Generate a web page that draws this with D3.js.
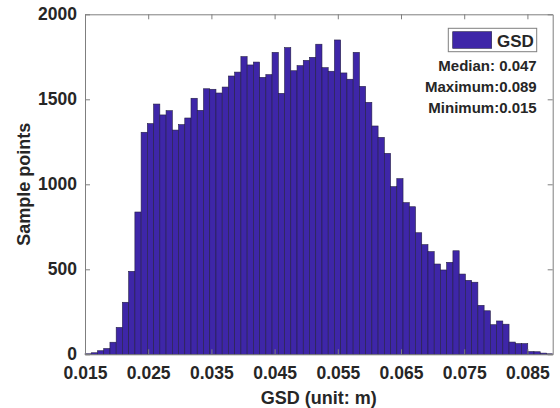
<!DOCTYPE html>
<html>
<head>
<meta charset="utf-8">
<script src="https://cdn.jsdelivr.net/npm/d3@7"></script>
<style>
  body { margin: 0; background: #fff; }
  svg text { font-family: "Liberation Sans", Arial, Helvetica, sans-serif; font-weight: bold; }
</style>
</head>
<body>
<svg id="svgContainer" width="560" height="408"></svg>
<script>
// histogram counts, 75 equal bins between the min and max GSD
var counts = [
  3, 9, 21, 34, 71, 158, 306, 488, 837, 1306,
  1357, 1472, 1408, 1433, 1319, 1351, 1390, 1506, 1435, 1562,
  1559, 1537, 1572, 1637, 1660, 1751, 1702, 1719, 1629, 1645,
  1776, 1535, 1804, 1668, 1698, 1729, 1747, 1824, 1686, 1665,
  1849, 1655, 1618, 1776, 1576, 1482, 1343, 1276, 1182, 986,
  1033, 892, 868, 715, 645, 604, 531, 496, 541, 609,
  472, 435, 424, 288, 256, 174, 196, 177, 72, 63,
  63, 16, 15, 7, 3
];
var binRange = [0.015, 0.089];
var xTicks = [0.015, 0.025, 0.035, 0.045, 0.055, 0.065, 0.075, 0.085];
var yTicks = [0, 500, 1000, 1500, 2000];
var statLines = ["Median: 0.047", "Maximum:0.089", "Minimum:0.015"];
var seriesName = "GSD";

var barColor = "#3e26a8";
var axisColor = "#7f7f7f";
var textColor = "#262626";

var margin = { left: 85, right: 7.3, top: 14.3, bottom: 53.7 };
var width = 560 - margin.left - margin.right;
var height = 408 - margin.top - margin.bottom;

var svg = d3.select("#svgContainer");
var g = svg.append("g").attr("transform", "translate(" + margin.left + "," + margin.top + ")");

var x = d3.scaleLinear().domain(binRange).range([0, width]);
var y = d3.scaleLinear().domain([0, 2000]).range([height, 0]);

var binW = (binRange[1] - binRange[0]) / counts.length;

/* bars */
g.selectAll("rect.bar")
  .data(counts)
  .enter()
  .append("rect")
  .attr("class", "bar")
  .attr("x", (d, i) => x(binRange[0] + i * binW))
  .attr("width", (d, i) => x(binRange[0] + (i + 1) * binW) - x(binRange[0] + i * binW))
  .attr("y", (d) => y(d))
  .attr("height", (d) => height - y(d))
  .attr("fill", barColor)
  .attr("stroke", "#241e44")
  .attr("stroke-width", 0.6);

/* axes: box with inward ticks on all four sides */
var bottomAxis = d3.axisBottom(x).tickValues(xTicks).tickFormat(d3.format(".3f")).tickSizeInner(-5).tickSizeOuter(0).tickPadding(12);
var topAxis = d3.axisTop(x).tickValues(xTicks).tickFormat("").tickSizeInner(-5).tickSizeOuter(0);
var leftAxis = d3.axisLeft(y).tickValues(yTicks).tickFormat(d3.format("d")).tickSizeInner(-5).tickSizeOuter(0).tickPadding(8);
var rightAxis = d3.axisRight(y).tickValues(yTicks).tickFormat("").tickSizeInner(-5).tickSizeOuter(0);

var gx = g.append("g").attr("transform", "translate(0," + height + ")").call(bottomAxis);
var gt = g.append("g").call(topAxis);
var gy = g.append("g").call(leftAxis);
var gr = g.append("g").attr("transform", "translate(" + width + ",0)").call(rightAxis);

[gx, gt, gy, gr].forEach((a) => {
  a.select(".domain").attr("stroke", axisColor).attr("stroke-width", 1);
  a.selectAll(".tick line").attr("stroke", axisColor);
  a.selectAll(".tick text").attr("fill", textColor).style("font-size", "17.5px").style("font-family", null);
});

/* axis labels */
svg.append("text")
  .attr("x", margin.left + width / 2)
  .attr("y", 404)
  .attr("text-anchor", "middle")
  .attr("fill", textColor)
  .style("font-size", "18px")
  .text("GSD (unit: m)");

svg.append("text")
  .attr("transform", "translate(29.5," + (margin.top + height / 2) + ") rotate(-90)")
  .attr("text-anchor", "middle")
  .attr("fill", textColor)
  .style("font-size", "18px")
  .text("Sample points");

/* legend */
var legend = svg.append("g");
legend.append("rect")
  .attr("x", 448.3).attr("y", 28.3)
  .attr("width", 88.4).attr("height", 23.4)
  .attr("fill", "#fff")
  .attr("stroke", axisColor);
legend.append("rect")
  .attr("x", 452.7).attr("y", 31.7)
  .attr("width", 39).attr("height", 16.6)
  .attr("fill", barColor)
  .attr("stroke", "#241e44")
  .attr("stroke-width", 0.6);
legend.append("text")
  .attr("x", 497).attr("y", 46.5)
  .attr("fill", textColor)
  .style("font-size", "17px")
  .text(seriesName);

svg.selectAll("text.stat")
  .data(statLines)
  .enter()
  .append("text")
  .attr("class", "stat")
  .attr("x", 536.7)
  .attr("y", (d, i) => 71 + i * 21.2)
  .attr("text-anchor", "end")
  .attr("fill", textColor)
  .style("font-size", "15px")
  .text((d) => d);
</script>
</body>
</html>
